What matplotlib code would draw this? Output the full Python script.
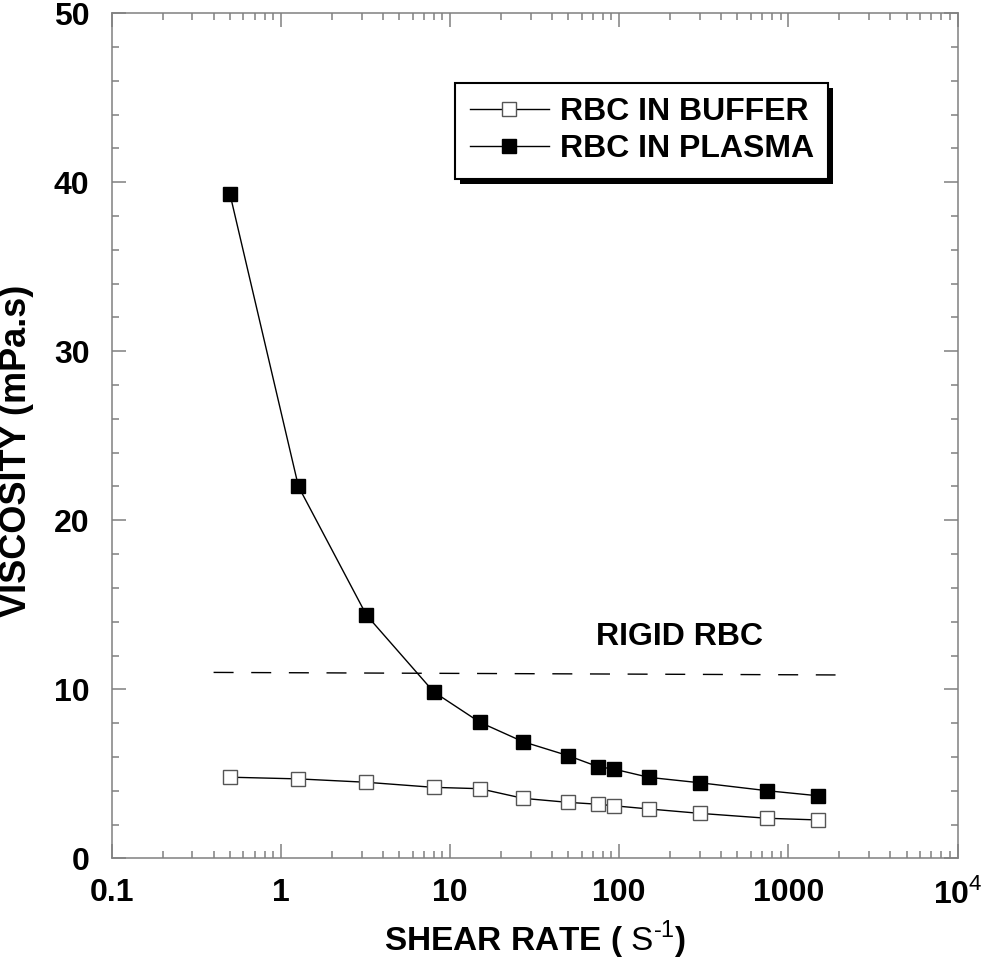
import matplotlib
matplotlib.use("Agg")
import matplotlib.pyplot as plt
from matplotlib.patches import Rectangle
from matplotlib.ticker import FixedLocator, FixedFormatter, LogLocator, MultipleLocator, NullFormatter

plt.rcParams['font.family'] = ['Liberation Sans', 'DejaVu Sans']
plt.rcParams['mathtext.fontset'] = 'custom'
plt.rcParams['mathtext.rm'] = 'Liberation Sans'
plt.rcParams['mathtext.bf'] = 'Liberation Sans:bold'

# Data
shear_rate = [0.5, 1.27, 3.2, 8, 15, 27, 50, 75, 93, 150, 300, 750, 1500]
plasma = [39.3, 22.0, 14.4, 9.85, 8.05, 6.9, 6.07, 5.42, 5.28, 4.79, 4.47, 4.0, 3.7]
buffer_ = [4.8, 4.7, 4.5, 4.2, 4.12, 3.55, 3.31, 3.2, 3.11, 2.92, 2.66, 2.37, 2.27]
rigid_x = [0.4, 1900]
rigid_y = [11.0, 10.85]
xticks = [0.1, 1, 10, 100, 1000, 10000]
xticklabels = ['0.1', '1', '10', '100', '1000', r'$\mathbf{10}^{\mathrm{4}}$']
yticks = [0, 10, 20, 30, 40, 50]

fig = plt.figure(figsize=(9.81, 9.68), dpi=100)
ax = fig.add_axes([0.1139, 0.1133, 0.8622, 0.8730])

spine_c = '#808080'
ax.plot(shear_rate, buffer_, color='black', lw=1.0, marker='s', ms=10,
        mfc='white', mec='#555555', mew=1.0, label='RBC IN BUFFER', zorder=3)
ax.plot(shear_rate, plasma, color='black', lw=1.0, marker='s', ms=10.5,
        mfc='black', mec='black', label='RBC IN PLASMA', zorder=3)
ln, = ax.plot(rigid_x, rigid_y, color='black', lw=1.0, zorder=2)
ln.set_dashes([14.4, 12.7])
ax.text(228, 13.1, 'RIGID RBC', fontsize=23, fontweight='bold', ha='center', va='center')

ax.set_xscale('log')
ax.set_xlim(0.1, 10000)
ax.set_ylim(0, 50)
ax.xaxis.set_major_locator(FixedLocator(xticks))
ax.xaxis.set_major_formatter(FixedFormatter(xticklabels))
ax.xaxis.set_minor_locator(LogLocator(base=10, subs=range(2, 10)))
ax.xaxis.set_minor_formatter(NullFormatter())
ax.yaxis.set_major_locator(FixedLocator(yticks))
ax.yaxis.set_minor_locator(MultipleLocator(2))

for s in ax.spines.values():
    s.set_color(spine_c)
    s.set_linewidth(1.1)
ax.tick_params(which='both', direction='in', top=True, right=True, color=spine_c, width=1.1)
ax.tick_params(which='major', length=10, labelsize=23)
ax.tick_params(axis='y', which='major', pad=16)
ax.tick_params(axis='x', which='major', pad=14)
ax.tick_params(which='minor', length=5)
for lab in ax.get_xticklabels() + ax.get_yticklabels():
    lab.set_fontweight('bold')

fig.text(535 / 981, 1 - 940 / 968, r'SHEAR RATE ( $\mathrm{S}^{\text{-1}}$)',
         fontsize=24, fontweight='bold', ha='center', va='center')
fig.text(17 / 981, 1 - 451 / 968, 'VISCOSITY (mPa.s)', fontsize=26, fontweight='bold',
         ha='center', va='center', rotation=90)

leg = ax.legend(loc='upper left', bbox_to_anchor=(0.406, 0.9175),
                prop={'weight': 'bold', 'size': 23}, frameon=True, fancybox=False,
                edgecolor='black', facecolor='white', framealpha=1.0,
                handlelength=2.5, handletextpad=0.33,
                borderpad=0.45, labelspacing=0.22, borderaxespad=0)
leg.get_frame().set_linewidth(1.5)
leg.set_zorder(5)

fig.canvas.draw()
bb = leg.get_window_extent().transformed(fig.transFigure.inverted())
off_x = 5 / fig.bbox.width
off_y = 5 / fig.bbox.height
shadow = Rectangle((bb.x0 + off_x, bb.y0 - off_y), bb.width, bb.height,
                   transform=fig.transFigure, facecolor='black', edgecolor='none', zorder=4)
ax.add_artist(shadow)
shadow.set_clip_on(False)

fig.savefig('out.png', dpi=100)
